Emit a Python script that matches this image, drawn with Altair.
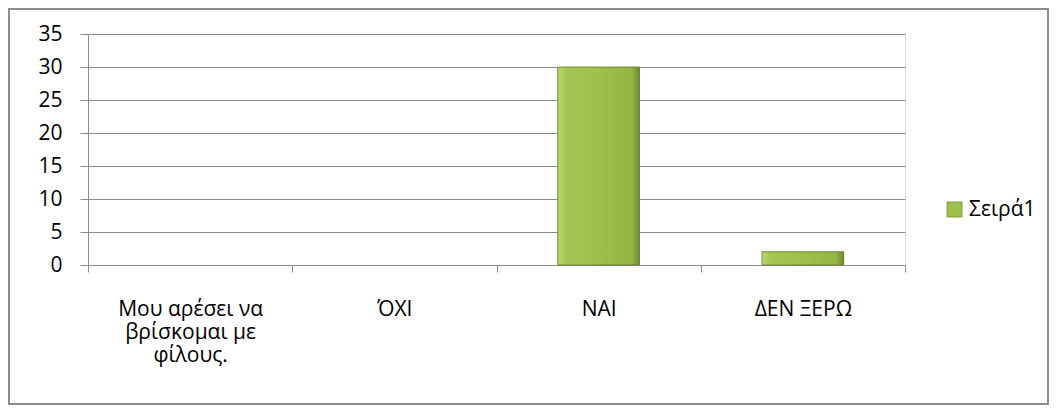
import altair as alt
import pandas as pd

categories = ["Μου αρέσει να βρίσκομαι με φίλους.", "ΌΧΙ", "ΝΑΙ", "ΔΕΝ ΞΕΡΩ"]
values = [0, 0, 30, 2]
series_name = "Σειρά1"
y_ticks = [0, 5, 10, 15, 20, 25, 30, 35]

df = pd.DataFrame({"cat": categories, "value": values, "series": [series_name] * len(categories)})

FONT = "Open Sans"
FS = 21
W, H = 817, 231
GRAY = "#8c8c8c"

x_enc = alt.X(
    "cat:N", sort=categories, title=None,
    scale=alt.Scale(paddingInner=0, paddingOuter=0),
    axis=alt.Axis(
        labelAngle=0, tickBand="extent", ticks=True, tickSize=7, tickColor=GRAY,
        domainColor=GRAY, labelFont=FONT, labelFontSize=FS, labelColor="#000000",
        labelPadding=26, labelLineHeight=23, labelBaseline="top", labelLimit=300,
        labelExpr="datum.value == 'Μου αρέσει να βρίσκομαι με φίλους.' ? ['Μου αρέσει να', 'βρίσκομαι με', 'φίλους.'] : datum.value",
    ),
)
y_enc = alt.Y(
    "value:Q", title=None,
    scale=alt.Scale(domain=[0, 35], nice=False),
    axis=alt.Axis(
        values=y_ticks, tickSize=8, tickColor=GRAY, domainColor=GRAY,
        gridColor=GRAY, gridWidth=1, labelFont=FONT, labelFontSize=FS,
        labelColor="#000000", labelPadding=18, labelOverlap=False,
    ),
)

base = alt.Chart(df)
bar_w = alt.RelativeBandSize(0.4)

bars = base.mark_bar(width=bar_w).encode(
    x=x_enc, y=y_enc,
    color=alt.Color(
        "series:N", title=None,
        scale=alt.Scale(range=["#9dc14b"]),
        legend=alt.Legend(
            orient="none", legendX=856, legendY=165, symbolType="square", symbolSize=225,
            symbolStrokeColor="#6f8f2e", symbolStrokeWidth=0.8,
            labelFont=FONT, labelFontSize=FS, labelColor="#000000", labelOffset=4,
        ),
    ),
)

grad = alt.Gradient(
    gradient="linear", x1=0, x2=1, y1=0, y2=0,
    stops=[
        alt.GradientStop(color="#b9d873", offset=0),
        alt.GradientStop(color="#a3c752", offset=0.1),
        alt.GradientStop(color="#9dc14b", offset=0.5),
        alt.GradientStop(color="#93b644", offset=0.9),
        alt.GradientStop(color="#6e8c2c", offset=1),
    ],
)

shade = base.transform_filter("datum.value > 0").mark_bar(
    width=bar_w, fill=grad, stroke="#5f7a25", strokeWidth=0.8
).encode(x=x_enc, y=y_enc)

frame = alt.Chart(pd.DataFrame({"k": [0]})).mark_rect(
    filled=False, stroke=GRAY, strokeWidth=2
).encode(
    x=alt.value(-79), x2=alt.value(960), y=alt.value(-25), y2=alt.value(370)
)

chart = alt.layer(bars, shade, frame).properties(
    width=W, height=H,
    autosize=alt.AutoSizeParams(type="none"),
    padding={"left": 80, "top": 26, "right": 145, "bottom": 141},
).configure_view(stroke=None).configure(background="#ffffff")

chart.save("out.html", embed_options={"renderer": "svg", "actions": False})
